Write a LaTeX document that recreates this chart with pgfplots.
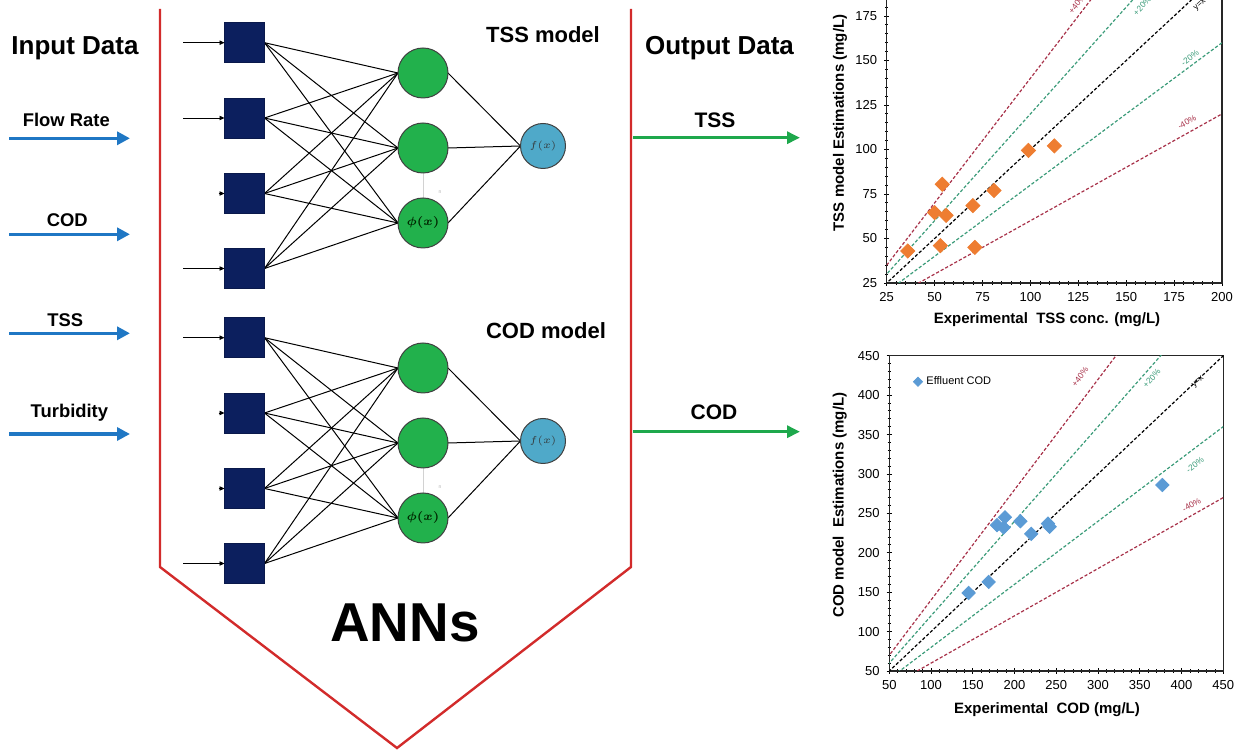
\documentclass[border=0pt]{standalone}
\usepackage{amsmath}
\usepackage{pgfplots}
\pgfplotsset{compat=1.18}
\usepackage{fontspec}
\setmainfont{Liberation Sans}
\usetikzlibrary{arrows.meta}

\definecolor{annred}{HTML}{D22B2B}
\definecolor{inblue}{HTML}{1F77C4}
\definecolor{outgreen}{HTML}{1EA84C}
\definecolor{navy}{HTML}{0C1F5E}
\definecolor{hidgreen}{HTML}{22B14C}
\definecolor{outcirc}{HTML}{4FA9C9}
\definecolor{tssorange}{HTML}{EE7D31}
\definecolor{codblue}{HTML}{5B9BD5}
\definecolor{lred}{HTML}{A8324A}
\definecolor{lgreen}{HTML}{3C9C7A}

\pgfplotsset{
  excelaxis/.style={
    anchor=south west, scale only axis,
    minor tick num=4,
    xtick pos=left, ytick pos=left, tick align=center,
    tick style={black, line width=0.4pt},
    major tick length=2.6pt, minor tick length=1.6pt,
    axis line style={black!85, line width=0.6pt},
    tick label style={font=\fontsize{6.5}{7}\selectfont, /pgf/number format/assume math mode=true},
    label style={font=\bfseries\fontsize{7.5}{9}\selectfont},
    clip=true,
  },
  refline/.style={dash pattern=on 1.6pt off 1pt, line width=0.6pt, forget plot},
}
\tikzset{linelab/.style={font=\fontsize{4.2}{4.5}\selectfont, inner sep=0pt}}

\begin{document}
\begin{tikzpicture}
\path[use as bounding box] (0,0) rectangle (619.5pt,-376.5pt);
\clip (0,0) rectangle (619.5pt,-376.5pt);
\begin{scope}[x=0.5pt,y=-0.5pt]
  % ANN frame
  \draw[annred, line width=1.2pt, line join=miter] (160,9) -- (160,567) -- (397,748) -- (631,567) -- (631,9);

  % left texts and arrows
  \node[anchor=base, font=\bfseries\fontsize{13}{15}\selectfont] at (75,55) {Input Data};
  \node[anchor=base, font=\bfseries\fontsize{9.2}{11}\selectfont] at (66.3,126.7) {Flow Rate};
  \node[anchor=base, font=\bfseries\fontsize{9.2}{11}\selectfont] at (67.3,226.7) {COD};
  \node[anchor=base, font=\bfseries\fontsize{9.2}{11}\selectfont] at (65.3,326.7) {TSS};
  \node[anchor=base, font=\bfseries\fontsize{9.2}{11}\selectfont] at (69.4,417.3) {Turbidity};
  \foreach \ay in {138.3,234.3,333.3,434} {
    \draw[inblue, line width=1.75pt, -{Triangle[length=6.5pt,width=6.5pt]}] (9,\ay) -- (130,\ay);
  }

  % right texts and arrows
  \node[anchor=base, font=\bfseries\fontsize{13}{15}\selectfont] at (719.5,55) {Output Data};
  \node[anchor=base, font=\bfseries\fontsize{10.5}{12}\selectfont] at (715,128) {TSS};
  \node[anchor=base, font=\bfseries\fontsize{10.5}{12}\selectfont] at (714,420) {COD};
  \draw[outgreen, line width=1.5pt, -{Triangle[length=6.5pt,width=6pt]}] (633,137.7) -- (800,137.7);
  \draw[outgreen, line width=1.5pt, -{Triangle[length=6.5pt,width=6pt]}] (633,431.7) -- (800,431.7);

  % model titles
  \node[anchor=base, font=\bfseries\fontsize{11}{13}\selectfont] at (543,42.7) {TSS model};
  \node[anchor=base, font=\bfseries\fontsize{11}{13}\selectfont] at (546,338.3) {COD model};
  \node[anchor=base, font=\bfseries\fontsize{27.4}{30}\selectfont] at (405,641.7) {ANNs};

  % networks
  \foreach \dy in {0,295} {
    \foreach \sy in {42.7,118,193.5,268.5} {
      \foreach \cy in {73,148,223} {
        \draw[black, line width=0.5pt] (264.5,\sy+\dy) -- (398,\cy+\dy);
      }
    }
    \foreach \cy in {73,148,223} {
      \draw[black, line width=0.5pt] (448,\cy+\dy) -- (520.5,146+\dy);
    }
    \foreach \sy in {42.7,118,193.5,268.5} {
      \filldraw[fill=navy, draw=navy!80!black, line width=0.4pt] (224.5,\sy+\dy-20) rectangle (264.5,\sy+\dy+20);
    }
    \draw[gray!35, line width=0.5pt] (423,173+\dy) -- (423,198+\dy);
    \node[gray!60, font=\fontsize{2.5}{3}\selectfont] at (440,192+\dy) {n};
    \filldraw[fill=hidgreen, draw=black!75, line width=0.5pt] (423,73+\dy) circle[radius=12.5pt];
    \filldraw[fill=hidgreen, draw=black!75, line width=0.5pt] (423,148+\dy) circle[radius=12.5pt];
    \filldraw[fill=hidgreen, draw=black!75, line width=0.5pt] (423,223+\dy) circle[radius=12.5pt];
    \node[font=\fontsize{6.5}{7}\selectfont, text=black!85!green] at (423,223+\dy) {$\boldsymbol{\phi(x)}$};
    \filldraw[fill=outcirc, draw=black!75, line width=0.5pt] (543,146+\dy) circle[radius=11.25pt];
    \node[font=\fontsize{5.5}{6}\selectfont, text=black!80] at (543,146+\dy) {$f(x)$};
  }
  % input arrows
  \foreach \sy in {42.7,118,268.5,337.7,563.5} {
    \draw[black, line width=0.4pt, -{Triangle[length=2.5pt,width=2.2pt]}] (183,\sy) -- (224.5,\sy);
  }
  \foreach \sy in {193.5,413,488.5} {
    \draw[black, line width=0.4pt, -{Triangle[length=2.5pt,width=2.2pt]}] (218.5,\sy) -- (224.5,\sy);
  }
\end{scope}

% TSS scatter
\begin{axis}[excelaxis,
  at={(443.35pt,-141.5pt)},
  width=167.65pt, height=155.75pt,
  xmin=25, xmax=200, ymin=25, ymax=200,
  xtick={25,50,...,200}, ytick={25,50,...,200},
  xlabel={Experimental\ \ TSS conc. (mg/L)},
  ylabel={TSS model Estimations (mg/L)},
  xlabel style={at={(axis description cs:0.478,-0.119)}, anchor=center},
  ylabel style={at={(axis description cs:-0.139,0.514)}, anchor=center},
]
\addplot[lred, refline] coordinates {(20,28) (200,280)};
\addplot[lgreen, refline] coordinates {(20,24) (200,240)};
\addplot[black, refline] coordinates {(20,20) (200,200)};
\addplot[lgreen, refline] coordinates {(20,16) (200,160)};
\addplot[lred, refline] coordinates {(20,12) (200,120)};
\addplot[only marks, mark=square*, mark size=2.5pt, mark options={rotate=45, fill=tssorange, draw=tssorange}]
  coordinates {(36,43) (50,64.5) (54,80.5) (56,63) (53,46) (70,68.5) (71,45) (81,77) (99,99.5) (112.5,102)};
\node[linelab, lred, rotate=52] at (axis cs:124.3,181.7) {+40\%};
\node[linelab, lgreen, rotate=48] at (axis cs:158.3,180.6) {+20\%};
\node[linelab, black, rotate=43] at (axis cs:188.6,181.2) {y=x};
\node[linelab, lgreen, rotate=37] at (axis cs:183.3,151.4) {-20\%};
\node[linelab, lred, rotate=29] at (axis cs:181.7,115.4) {-40\%};
\end{axis}

% COD scatter
\begin{axis}[excelaxis,
  at={(444.65pt,-335.5pt)},
  width=167pt, height=157.65pt,
  xmin=50, xmax=450, ymin=50, ymax=450,
  xtick={50,100,...,450}, ytick={50,100,...,450},
  xlabel={Experimental\ \ COD (mg/L)},
  ylabel={COD model\ \ Estimations (mg/L)},
  xlabel style={at={(axis description cs:0.472,-0.124)}, anchor=center},
  ylabel style={at={(axis description cs:-0.148,0.526)}, anchor=center},
  legend style={at={(axis description cs:0.065,0.955)}, anchor=north west, draw=none, fill=none,
    font=\fontsize{5.5}{6}\selectfont, inner sep=1pt},
  legend cell align=left,
  legend image post style={mark size=1.6pt},
]
\addplot[only marks, mark=square*, mark size=2.35pt, mark options={rotate=45, fill=codblue, draw=codblue}]
  coordinates {(145,149) (169,163) (179,235) (188.5,245) (187,232) (207,240) (220,224) (240,237) (242,233) (377,286)};
\addlegendentry{Effluent COD}
\addplot[lred, refline] coordinates {(40,56) (450,630)};
\addplot[lgreen, refline] coordinates {(40,48) (450,540)};
\addplot[black, refline] coordinates {(40,40) (450,450)};
\addplot[lgreen, refline] coordinates {(40,32) (450,360)};
\addplot[lred, refline] coordinates {(40,24) (450,270)};
\node[linelab, lred, rotate=53] at (axis cs:278.5,423.5) {+40\%};
\node[linelab, lgreen, rotate=48.5] at (axis cs:364.3,421.4) {+20\%};
\node[linelab, black, rotate=43] at (axis cs:420,417) {y=x};
\node[linelab, lgreen, rotate=37] at (axis cs:416,311.4) {-20\%};
\node[linelab, lred, rotate=29.5] at (axis cs:412,260.7) {-40\%};
\end{axis}
\end{tikzpicture}
\end{document}
